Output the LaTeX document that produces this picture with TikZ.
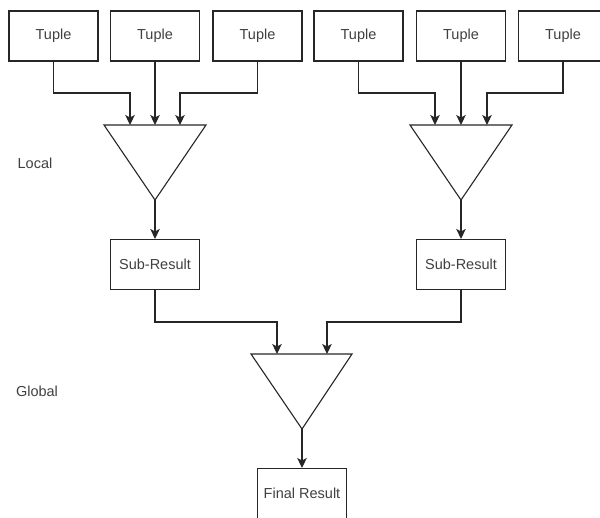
\documentclass[tikz,border=0pt]{standalone}
\usepackage{fontspec}
\setmainfont{Liberation Sans}
\usetikzlibrary{arrows.meta}
\begin{document}
\begin{tikzpicture}[x=1pt,y=-1pt,
  box/.style={draw=black!85,line width=1.1pt,minimum width=89pt,minimum height=50pt,inner sep=0pt,font=\fontsize{14.5}{16}\selectfont,text=black!75},
  arr/.style={draw=black!85,line width=1.1pt,-{Stealth[length=10pt,width=9.5pt,inset=2.5pt]}},
  tri/.style={draw=black!85,line width=1.1pt,line join=miter},
  lbl/.style={font=\fontsize{14.5}{16}\selectfont,text=black!75}]
\useasboundingbox (0,0) rectangle (600,517);
\clip (0,0) rectangle (600,517);
% tuples
\node[box] (b1) at (53.5,36) {Tuple};
\node[box] (b2) at (155,36) {Tuple};
\node[box] (b3) at (257.5,36) {Tuple};
\node[box] (b4) at (358.5,36) {Tuple};
\node[box] (b5) at (461,36) {Tuple};
\node[box] (b6) at (563,36) {Tuple};
% triangles
\coordinate (t1l) at (104,125); \coordinate (t1r) at (206,125); \coordinate (t1b) at (155,200);
\coordinate (t2l) at (410,125); \coordinate (t2r) at (512,125); \coordinate (t2b) at (461,200);
\coordinate (t3l) at (251,354); \coordinate (t3r) at (352,354); \coordinate (t3b) at (302,429);
\draw[tri] (t1l) -- (t1r) -- (t1b) -- cycle;
\draw[tri] (t2l) -- (t2r) -- (t2b) -- cycle;
\draw[tri] (t3l) -- (t3r) -- (t3b) -- cycle;
\coordinate (t1a) at (130,125); \coordinate (t1c) at (155,125); \coordinate (t1d) at (180,125);
\coordinate (t2a) at (435,125); \coordinate (t2c) at (461,125); \coordinate (t2d) at (487,125);
\coordinate (t3a) at (277,354); \coordinate (t3d) at (327,354);
% sub results
\node[box] (s1) at (155,264.5) {Sub-Result};
\node[box] (s2) at (461,264.5) {Sub-Result};
\node[box,minimum height=60pt,anchor=north] (f) at (302,468) {};
\node[lbl] at (302,493) {Final Result};
% labels
\node[lbl] at (35,163) {Local};
\node[lbl] at (37,391) {Global};
% connectors
\draw[arr] (b1.south) -- (b1.south |- 0,93) -| (t1a);
\draw[arr] (b2.south) -- (t1c);
\draw[arr] (b3.south) -- (b3.south |- 0,93) -| (t1d);
\draw[arr] (b4.south) -- (b4.south |- 0,93) -| (t2a);
\draw[arr] (b5.south) -- (t2c);
\draw[arr] (b6.south) -- (b6.south |- 0,93) -| (t2d);
\draw[arr] (t1b) -- (s1.north);
\draw[arr] (t2b) -- (s2.north);
\draw[arr] (s1.south) -- (s1.south |- 0,322) -| (t3a);
\draw[arr] (s2.south) -- (s2.south |- 0,322) -| (t3d);
\draw[arr] (t3b) -- (f.north);
\end{tikzpicture}
\end{document}
